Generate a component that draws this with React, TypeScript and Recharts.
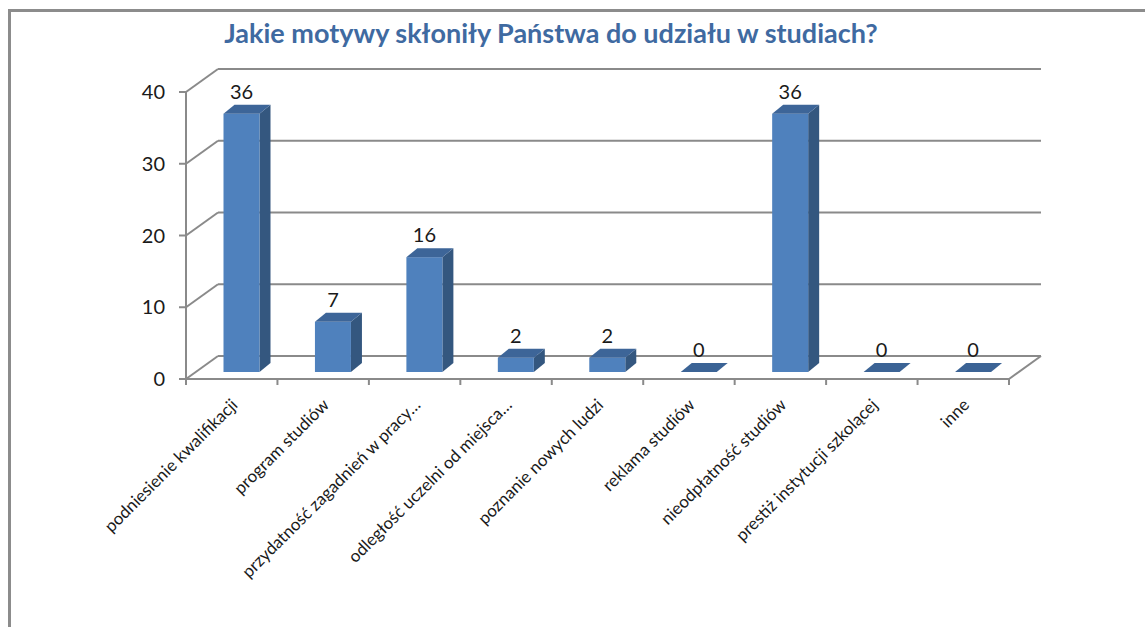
import { BarChart, Bar, XAxis, YAxis, CartesianGrid, LabelList } from "recharts";

const categories = [
  "podniesienie kwalifikacji",
  "program studiów",
  "przydatność zagadnień w pracy…",
  "odległość uczelni od miejsca…",
  "poznanie nowych ludzi",
  "reklama studiów",
  "nieodpłatność studiów",
  "prestiż instytucji szkolącej",
  "inne",
];
const values = [36, 7, 16, 2, 2, 0, 36, 0, 0];
const yTicks = [0, 10, 20, 30, 40];

const data = categories.map((name, i) => ({ name, value: values[i] }));

const W = 1145;
const H = 627;
const margin = { top: 92, right: 136, bottom: 218, left: 126 };
const Y_AXIS_W = 60;
const X_AXIS_H = 30;
const PLOT_W = W - margin.left - Y_AXIS_W - margin.right;
const PLOT_BOTTOM = H - margin.bottom - X_AXIS_H;
const BAND = PLOT_W / categories.length;

// depth of the back wall and of each bar
const WALL_DX = 32;
const WALL_DY = -23;
const BAR_SHIFT_X = 9.5;
const BAR_SHIFT_Y = -7;
const BAR_DX = 11;
const BAR_DY = -9;

const GRID = "#8a8a8a";
const FONT = "Lato, 'Open Sans', sans-serif";

function WallLine(props: any) {
  const { x1, y1, x2, y2 } = props;
  const isFloor = Math.abs(y1 - PLOT_BOTTOM) < 1;
  return (
    <g>
      <line x1={x1} y1={y1} x2={x1 + WALL_DX} y2={y1 + WALL_DY} stroke={GRID} strokeWidth={2} />
      <line
        x1={x1 + WALL_DX}
        y1={y1 + WALL_DY}
        x2={x2 + WALL_DX}
        y2={y2 + WALL_DY}
        stroke={GRID}
        strokeWidth={2}
      />
      {isFloor && (
        <line x1={x2} y1={y2} x2={x2 + WALL_DX} y2={y2 + WALL_DY} stroke={GRID} strokeWidth={2} />
      )}
    </g>
  );
}

function Bar3D(props: any) {
  const { x, y, width, height } = props;
  const fx = x + BAR_SHIFT_X;
  const fy = y + BAR_SHIFT_Y;
  const h = Math.max(height, 0);
  const top = `${fx},${fy} ${fx + BAR_DX},${fy + BAR_DY} ${fx + width + BAR_DX},${fy + BAR_DY} ${fx + width},${fy}`;
  const side = `${fx + width},${fy} ${fx + width + BAR_DX},${fy + BAR_DY} ${fx + width + BAR_DX},${fy + h + BAR_DY} ${fx + width},${fy + h}`;
  return (
    <g>
      {h > 0 && <polygon points={side} fill="#34577f" />}
      {h > 0 && <rect x={fx} y={fy} width={width} height={h} fill="#4f81bd" />}
      <polygon points={top} fill={h > 0 ? "#3d6598" : "#3b6395"} />
    </g>
  );
}

function ValueLabel(props: any) {
  const vb = props.viewBox || props;
  const { x, y, width } = vb;
  return (
    <text
      x={x + BAR_SHIFT_X + width / 2}
      y={y + BAR_SHIFT_Y - 23}
      textAnchor="middle"
      dominantBaseline="central"
      fontSize={20}
      fontFamily={FONT}
      fill="#1a1a1a"
    >
      {props.value}
    </text>
  );
}

function CategoryTick(props: any) {
  const { x, y, payload, index } = props;
  const last = index === categories.length - 1;
  return (
    <g>
      <line x1={x - BAND / 2} y1={y} x2={x - BAND / 2} y2={y + 6} stroke={GRID} strokeWidth={2} />
      {last && <line x1={x + BAND / 2} y1={y} x2={x + BAND / 2} y2={y + 6} stroke={GRID} strokeWidth={2} />}
      <text
        transform={`translate(${x + 7},${y + 27}) rotate(-45)`}
        textAnchor="end"
        fontSize={17}
        fontFamily={FONT}
        fill="#1a1a1a"
      >
        {payload.value}
      </text>
    </g>
  );
}

export default function App() {
  return (
    <div style={{ position: "absolute", left: 0, top: 0, width: W, height: H, overflow: "hidden", background: "#fff" }}>
      <div
        style={{
          position: "absolute",
          left: 8,
          top: 9,
          width: 1300,
          height: 800,
          border: "3px solid #8c8c8c",
        }}
      />
      <div
        style={{
          position: "absolute",
          left: 0,
          top: 16,
          width: 1102,
          textAlign: "center",
          fontFamily: FONT,
          fontWeight: 700,
          fontSize: 27,
          color: "#3f6aa1",
        }}
      >
        Jakie motywy skłoniły Państwa do udziału w studiach?
      </div>
      <div style={{ position: "absolute", left: 0, top: 0 }}>
        <BarChart width={W} height={H} data={data} margin={margin} barSize={36}>
          <CartesianGrid vertical={false} horizontal={(p: any) => <WallLine {...p} />} />
          <XAxis
            dataKey="name"
            height={X_AXIS_H}
            interval={0}
            tickLine={false}
            tickSize={0}
            tickMargin={0}
            axisLine={{ stroke: GRID, strokeWidth: 2 }}
            tick={<CategoryTick />}
          />
          <YAxis
            width={Y_AXIS_W}
            domain={[0, 40]}
            ticks={yTicks}
            tickSize={7}
            tickMargin={14}
            axisLine={{ stroke: GRID, strokeWidth: 2 }}
            tickLine={{ stroke: GRID, strokeWidth: 2 }}
            tick={{ fontSize: 20, fontFamily: FONT, fill: "#1a1a1a" }}
          />
          <Bar dataKey="value" shape={<Bar3D />} isAnimationActive={false}>
            <LabelList dataKey="value" content={<ValueLabel />} />
          </Bar>
        </BarChart>
      </div>
    </div>
  );
}
